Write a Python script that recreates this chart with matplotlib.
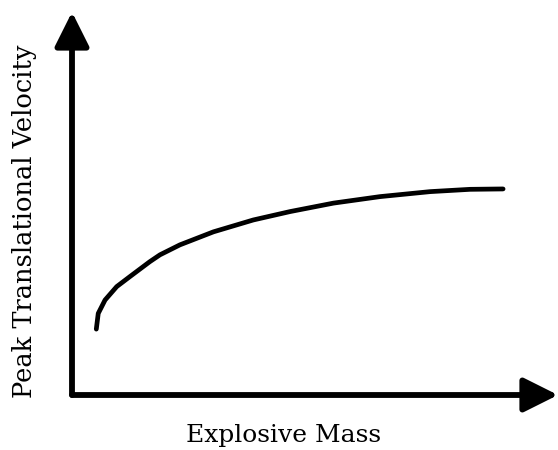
import matplotlib
matplotlib.use("Agg")
import matplotlib.pyplot as plt
from matplotlib.patches import ArrowStyle

# curve (arbitrary units, axes run 0..10)
mass = [0.50, 0.54, 0.68, 0.92, 1.19, 1.60, 1.81, 2.22, 2.91, 3.73,
        4.49, 5.38, 6.34, 7.37, 8.19, 8.87]
velocity = [1.72, 2.13, 2.48, 2.83, 3.09, 3.48, 3.66, 3.92, 4.26, 4.57,
            4.79, 5.01, 5.18, 5.31, 5.37, 5.38]

x_label = "Explosive Mass"
y_label = "Peak Translational Velocity"

W, H = 558, 450
fig = plt.figure(figsize=(W / 100, H / 100), dpi=100)
# axes origin at the corner of the two arrows
ax = fig.add_axes([72 / W, 1 - 395 / H, (558 - 72) / W, (395 - 12) / H])
ax.set_xlim(0, 10)
ax.set_ylim(0, 10)
ax.axis("off")

ax.plot(mass, velocity, color="black", lw=3.4, solid_capstyle="round",
        solid_joinstyle="round")

# axis arrows
style = ArrowStyle("-|>", head_length=1.0, head_width=0.5)
for end in [(0, 1), (1, 0)]:
    ax.annotate("", xy=end, xytext=(0, 0), xycoords="axes fraction",
                arrowprops=dict(arrowstyle=style, lw=4.2, color="black",
                                mutation_scale=21, shrinkA=0, shrinkB=0),
                annotation_clip=False)

fig.text(284 / W, 1 - 442 / H, x_label, ha="center", va="baseline",
         family="DejaVu Serif", fontsize=18)
fig.text(25 / W, 1 - 221 / H, y_label, ha="center", va="center",
         rotation=90, family="DejaVu Serif", fontsize=18.5)

fig.savefig("out.png", dpi=100, facecolor="white")
